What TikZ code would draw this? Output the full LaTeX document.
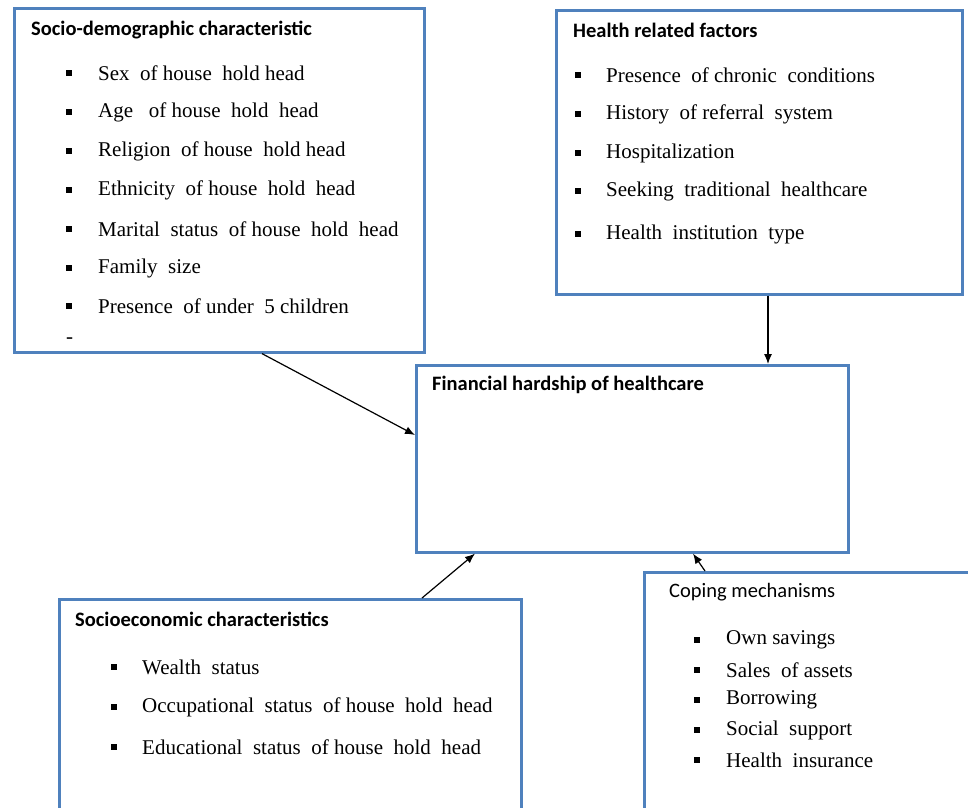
\documentclass[tikz,border=0pt]{standalone}
\usepackage{fontspec}
\setmainfont{Liberation Serif}
\newfontfamily\titlefont{Carlito}
\usetikzlibrary{arrows.meta,calc}
\definecolor{boxblue}{RGB}{79,129,189}
\tikzset{
  box/.style={draw=boxblue, line width=2.6pt, fill=white, anchor=north west, inner sep=0pt},
  ttl/.style={anchor=west, inner sep=0pt, font=\titlefont\bfseries\fontsize{20.5}{24}\selectfont},
  ttlplain/.style={anchor=west, inner sep=0pt, font=\titlefont\fontsize{20.5}{24}\selectfont},
  item/.style={anchor=west, inner sep=0pt, font=\fontsize{21}{24}\selectfont},
  bul/.style={fill=black, minimum size=6pt, inner sep=0pt, draw=none},
  arr/.style={draw=black, line width=1.2pt, -{Latex[length=10pt,width=8pt]}}
}
\begin{document}
\begin{tikzpicture}[x=1pt,y=-1pt]
\clip (0,0) rectangle (968,807);
\fill[white] (0,0) rectangle (968,807);

% boxes
\node[box, minimum width=410pt, minimum height=344pt] (sd) at (13,7) {};
\node[box, minimum width=406pt, minimum height=284pt] (hr) at (555,9) {};
\node[box, minimum width=432pt, minimum height=187pt] (fin) at (415,364) {};
\node[box, minimum width=462pt, minimum height=240pt] (se) at (58,598) {};
\node[box, minimum width=325pt, minimum height=260pt] (cm) at (643,571) {};

% socio-demographic
\node[ttl] (sdt) at (31,30) {Socio-demographic characteristic};
\foreach \y/\t [count=\i] in {73/{Sex~~of house~~hold head},112/{Age~~~of house~~hold~~head},151/{Religion~~of house~~hold head},190/{Ethnicity~~of house~~hold~~head},229/{Marital~~status~~of house~~hold~~head},268/{Family~~size},306/{Presence~~of under~~5 children}}{
  \node[bul] (sdb\i) at (69,\y) {};
  \node[item] (sdi\i) at (98,\y) {\t};
}
\node[item] (sddash) at (66,341) {-};

% health related
\node[ttl] (hrt) at (573,30) {Health related factors};
\foreach \y/\t [count=\i] in {75/{Presence~~of chronic~~conditions},114/{History~~of referral~~system},153/{Hospitalization},191/{Seeking~~traditional~~healthcare},234/{Health~~institution~~type}}{
  \node[bul] (hrb\i) at (578,\y) {};
  \node[item] (hri\i) at (606,\y) {\t};
}

% financial
\node[ttl] (fint) at (432,385) {Financial hardship of healthcare};

% socioeconomic
\node[ttl] (set) at (75,619) {Socioeconomic characteristics};
\foreach \y/\t [count=\i] in {667/{Wealth~~status},707/{Occupational~~status~~of house~~hold~~head},747/{Educational~~status~~of house~~hold~~head}}{
  \node[bul] (seb\i) at (114,\y) {};
  \node[item] (sei\i) at (142,\y) {\t};
}

% coping
\node[ttlplain] (cmt) at (669,592) {Coping mechanisms};
\foreach \y/\t [count=\i] in {640/{Own savings},670/{Sales~~of assets},700/{Borrowing},730/{Social~~support},760/{Health~~insurance}}{
  \node[bul] (cmb\i) at (697,\y) {};
  \node[item] (cmi\i) at (726,\y) {\t};
}

% arrows
\draw[arr] ([xshift=249pt]sd.south west) -- ([yshift=-71pt]fin.north west);
\draw[arr] ([xshift=213pt]hr.south west) -- ([xshift=353pt]fin.north west);
\draw[arr] ([xshift=364pt]se.north west) -- ([xshift=60pt]fin.south west);
\draw[arr] ([xshift=62pt]cm.north west) -- ([xshift=278pt]fin.south west);
\end{tikzpicture}
\end{document}
